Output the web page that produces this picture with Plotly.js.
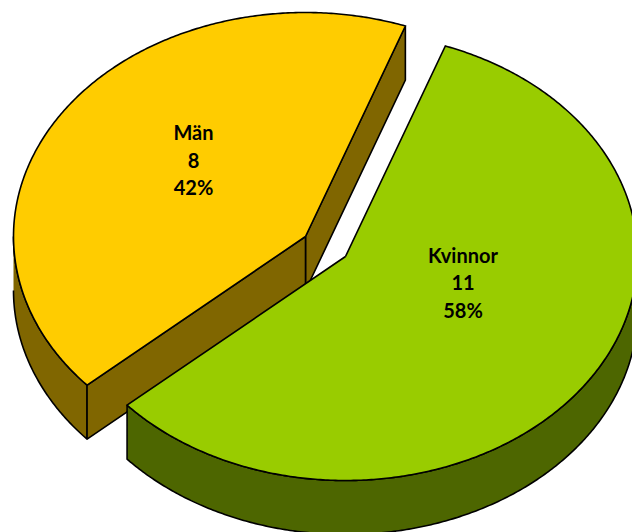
<!DOCTYPE html>
<html>
<head>
<meta charset="utf-8">
<script src="https://cdn.plot.ly/plotly-3.0.1.min.js"></script>
<style>html,body{margin:0;padding:0;background:#fff;overflow:hidden}#chart{width:632px;height:532px}</style>
</head>
<body>
<div id="chart"></div>
<script>
// Data
const categories = ["Män", "Kvinnor"];
const values = [8, 11];
const topColors = ["#FFCC00", "#99CC00"];
const sideColors = ["#806600", "#4D6600"];

// Pie geometry, in the plot's pixel-sized axis units
const rx = 292, ry = 224, depth = 54;
const startDeg = 70;               // boundary between slices, counter-clockwise from east
const centers = [[305.5, 236.5], [345.5, 256.5]];
const labelAt = [[193.5, 162.5], [463, 285]];
const lineGap = 27.5;

const total = values.reduce((a, b) => a + b, 0);
const rad = d => d * Math.PI / 180;
const pt = (c, t, dy) => [c[0] + rx * Math.cos(rad(t)), c[1] - ry * Math.sin(rad(t)) + (dy || 0)];
function arc(c, a, b, dy) {
  const out = [], n = Math.ceil(Math.abs(b - a) * 2);
  for (let i = 0; i <= n; i++) out.push(pt(c, a + (b - a) * i / n, dy));
  return out;
}
function poly(points, fill, width) {
  return {
    type: "scatter", mode: "lines", hoverinfo: "skip", showlegend: false,
    x: points.map(p => p[0]), y: points.map(p => p[1]),
    fill: "toself", fillcolor: fill,
    line: {color: "#000000", width: width || 1.6, simplify: false}
  };
}

// Slice spans from the values
const yellowSpan = values[0] / total * 360;
const yA = startDeg, yB = startDeg + yellowSpan;     // Män, counter-clockwise
const gA = startDeg, gB = startDeg - values[1] / total * 360; // Kvinnor, clockwise

const c0 = centers[0], c1 = centers[1];
const traces = [];

// Män: outer wall, the two cut faces, top
traces.push(poly(arc(c0, 180, yB, 0).concat(arc(c0, yB, 180, depth)), sideColors[0]));
traces.push(poly([c0, pt(c0, yA), pt(c0, yA, depth), [c0[0], c0[1] + depth], c0], sideColors[0]));
traces.push(poly([c0, pt(c0, yB), pt(c0, yB, depth), [c0[0], c0[1] + depth], c0], sideColors[0]));
traces.push(poly([c0].concat(arc(c0, yA, yB, 0), [c0]), topColors[0]));

// Kvinnor: outer wall, top
traces.push(poly(arc(c1, 0, gB, 0).concat(arc(c1, gB, 0, depth)), sideColors[1]));
traces.push(poly([c1].concat(arc(c1, gA, gB, 0), [c1]), topColors[1]));

// Labels
categories.forEach((name, i) => {
  const pct = Math.round(values[i] / total * 100) + "%";
  const [lx, ly] = labelAt[i];
  traces.push({
    type: "scatter", mode: "text", hoverinfo: "skip", showlegend: false,
    x: [lx, lx, lx],
    y: [ly - lineGap, ly, ly + lineGap],
    text: [name, String(values[i]), pct],
    textposition: "middle center",
    textfont: {family: "Lato, 'Open Sans', sans-serif", size: 20, color: "#000000", weight: 700}
  });
});

const hidden = {visible: false, fixedrange: true};
Plotly.newPlot("chart", traces, {
  width: 632, height: 532,
  margin: {l: 0, r: 0, t: 0, b: 0, pad: 0},
  paper_bgcolor: "#ffffff", plot_bgcolor: "#ffffff",
  showlegend: false,
  xaxis: Object.assign({range: [0, 632]}, hidden),
  yaxis: Object.assign({range: [532, 0]}, hidden)
}, {displayModeBar: false, staticPlot: true});
</script>
</body>
</html>
